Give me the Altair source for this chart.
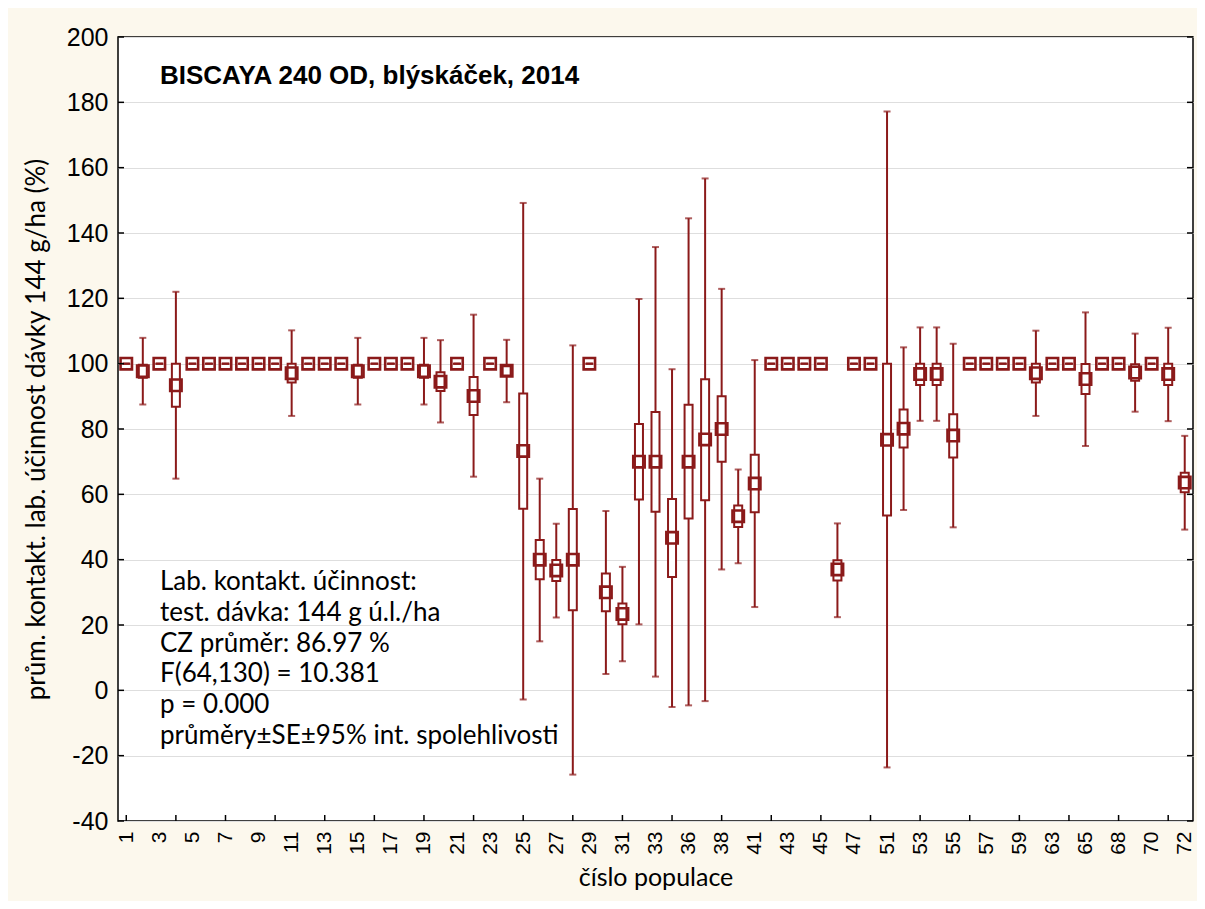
import altair as alt
import pandas as pd

# ---- data ----
cats = ["1","2","3","4","5","6","7","8","9","10","11","12","13","14","15","16","17","18","19","20",
        "21","22","23","24","25","26","27","28","29","30","31","32","33","34","36","37","38","39","41","42",
        "43","44","45","46","47","50","51","52","53","54","55","56","57","58","59","61","63","64","65","66",
        "68","69","70","71","72"]

means = [100, 97.7, 100, 93.4, 100, 100, 100, 100, 100, 100,
         97.1, 100, 100, 100, 97.7, 100, 100, 100, 97.7, 94.5,
         100, 90.1, 100, 97.8, 73.3, 40.0, 36.7, 40.0, 100, 30.0,
         23.4, 70.0, 70.0, 46.7, 70.0, 76.8, 80.0, 53.3, 63.3, 100,
         100, 100, 100, 37.0, 100, 100, 76.7, 80.1, 96.8, 96.8,
         78.0, 100, 100, 100, 100, 97.1, 100, 100, 95.3, 100,
         100, 97.3, 100, 96.8, 63.6]

se_lo = [100, 95.7, 100, 86.8, 100, 100, 100, 100, 100, 100,
         94.2, 100, 100, 100, 95.7, 100, 100, 100, 95.7, 91.6,
         100, 84.3, 100, 96.4, 55.6, 34.0, 33.5, 24.5, 100, 24.2,
         20.2, 58.4, 54.7, 34.7, 52.6, 58.2, 70.0, 50.0, 54.5, 100,
         100, 100, 100, 33.6, 100, 100, 53.5, 74.3, 93.5, 93.5,
         71.3, 100, 100, 100, 100, 94.2, 100, 100, 90.7, 100,
         100, 94.8, 100, 93.5, 60.6]

se_hi = [100, 99.7, 100, 100, 100, 100, 100, 100, 100, 100,
         100, 100, 100, 100, 99.7, 100, 100, 100, 99.7, 97.4,
         100, 95.9, 100, 99.2, 90.9, 46.0, 39.9, 55.5, 100, 35.8,
         26.6, 81.5, 85.2, 58.6, 87.4, 95.2, 90.0, 56.6, 72.1, 100,
         100, 100, 100, 39.8, 100, 100, 100, 86.0, 100, 100,
         84.5, 100, 100, 100, 100, 100, 100, 100, 99.9, 100,
         100, 99.8, 100, 100, 66.6]

ci_lo = [100, 87.5, 100, 64.8, 100, 100, 100, 100, 100, 100,
         84.0, 100, 100, 100, 87.5, 100, 100, 100, 87.5, 82.0,
         100, 65.4, 100, 88.2, -2.8, 15.0, 22.3, -25.8, 100, 5.0,
         8.9, 20.2, 4.2, -5.1, -4.6, -3.3, 37.0, 38.9, 25.5, 100,
         100, 100, 100, 22.4, 100, 100, -23.6, 55.2, 82.5, 82.5,
         49.9, 100, 100, 100, 100, 84.0, 100, 100, 74.8, 100,
         100, 85.3, 100, 82.4, 49.2]

ci_hi = [100, 107.9, 100, 122.0, 100, 100, 100, 100, 100, 100,
         110.2, 100, 100, 100, 107.9, 100, 100, 100, 107.9, 107.2,
         100, 115.0, 100, 107.3, 149.2, 64.8, 51.0, 105.6, 100, 54.9,
         37.8, 119.8, 135.7, 98.3, 144.5, 156.7, 122.9, 67.6, 101.1, 100,
         100, 100, 100, 51.1, 100, 100, 177.2, 105.0, 111.1, 111.1,
         106.1, 100, 100, 100, 100, 110.1, 100, 100, 115.7, 100,
         100, 109.2, 100, 111.0, 77.9]

x_labels = ["1","3","5","7","9","11","13","15","17","19","21","23","25","27","29","31","33",
            "36","38","41","43","45","47","51","53","55","57","59","63","65","68","70","72"]
y_ticks = [-40, -20, 0, 20, 40, 60, 80, 100, 120, 140, 160, 180, 200]

title_text = "BISCAYA 240 OD, blýskáček, 2014"
note_lines = ["Lab. kontakt. účinnost:",
              "test. dávka: 144 g ú.l./ha",
              "CZ průměr: 86.97 %",
              "F(64,130) = 10.381",
              "p = 0.000",
              "průměry±SE±95% int. spolehlivosti"]

# ---- chart ----
COL = "#8b1a1a"
W, H = 1075, 784

df = pd.DataFrame({"cat": cats, "mean": means, "se_lo": se_lo, "se_hi": se_hi,
                   "ci_lo": ci_lo, "ci_hi": ci_hi})

xaxis = alt.Axis(values=x_labels, labelAngle=270, labelAlign="right", labelBaseline="middle",
                 ticks=False, domain=False, grid=False, labelFontSize=21,
                 labelFont="Liberation Sans", labelColor="black", labelPadding=10,
                 title="číslo populace", titleFont="Lato", titleFontSize=25,
                 titleFontWeight="normal", titleColor="black", titlePadding=11)
yaxis = alt.Axis(values=y_ticks, ticks=False, domain=False, grid=True, gridColor="#dedede",
                 gridWidth=1, labelFontSize=25, labelFont="Liberation Sans", labelColor="black",
                 labelPadding=10, labelExpr="'' + datum.value",
                 title="prům. kontakt. lab. účinnost dávky 144 g/ha (%)",
                 titleFont="Lato", titleFontSize=26, titleFontWeight="normal",
                 titleColor="black", titlePadding=17)

xscale = alt.Scale(type="point", padding=0.5, domain=cats)
yscale = alt.Scale(domain=[-40, 200], nice=False, zero=False)


def X():
    return alt.X("cat:N", sort=cats, scale=xscale, axis=xaxis)


base = alt.Chart(df)

whisk = base.mark_rule(color=COL, strokeWidth=2).encode(
    x=X(), y=alt.Y("ci_lo:Q", scale=yscale, axis=yaxis), y2="ci_hi:Q")
cap_lo = base.mark_tick(color=COL, size=7, thickness=2).encode(
    x=X(), y=alt.Y("ci_lo:Q", scale=yscale, axis=yaxis))
cap_hi = base.mark_tick(color=COL, size=7, thickness=2).encode(
    x=X(), y=alt.Y("ci_hi:Q", scale=yscale, axis=yaxis))
box = base.mark_bar(size=8, fill="white", stroke=COL, strokeWidth=2).encode(
    x=X(), y=alt.Y("se_lo:Q", scale=yscale, axis=yaxis), y2="se_hi:Q")
mean_pt = base.mark_point(shape="square", filled=False, size=130, strokeWidth=2.6,
                          color=COL, opacity=1).encode(
    x=X(), y=alt.Y("mean:Q", scale=yscale, axis=yaxis))

# inward axis ticks
ytk = alt.Chart(pd.DataFrame({"v": y_ticks}))
ytick_l = ytk.mark_rule(color="black", strokeWidth=1.5).encode(
    y=alt.Y("v:Q", scale=yscale, axis=yaxis), x=alt.value(0), x2=alt.value(6))
ytick_r = ytk.mark_rule(color="black", strokeWidth=1.5).encode(
    y=alt.Y("v:Q", scale=yscale, axis=yaxis), x=alt.value(W), x2=alt.value(W - 6))
xtk = alt.Chart(pd.DataFrame({"cat": cats[::3]}))
xtick = xtk.mark_rule(color="black", strokeWidth=1.5).encode(
    x=X(), y=alt.value(H), y2=alt.value(H - 6))

title = alt.Chart(pd.DataFrame({"t": [title_text]})).mark_text(
    align="left", baseline="alphabetic", fontSize=26, fontWeight="bold",
    font="Liberation Sans", color="black").encode(
    text="t:N", x=alt.value(42), y=alt.value(47))

note = alt.Chart(pd.DataFrame({"t": ["\n".join(note_lines)]})).mark_text(
    align="left", baseline="alphabetic", fontSize=26, font="Lato", color="black",
    lineBreak="\n", lineHeight=30.8).encode(
    text="t:N", x=alt.value(42), y=alt.value(553))

chart = alt.layer(whisk, cap_lo, cap_hi, box, mean_pt, ytick_l, ytick_r, xtick, title, note).properties(
    width=W, height=H,
    autosize=alt.AutoSizeParams(type="none"),
    padding={"left": 110, "top": 29, "right": 4, "bottom": 80},
    background="#fcf8ed",
).configure_view(fill="white", stroke="black", strokeWidth=1.5)

chart.save("out.html", embed_options={"renderer": "svg", "actions": False})
